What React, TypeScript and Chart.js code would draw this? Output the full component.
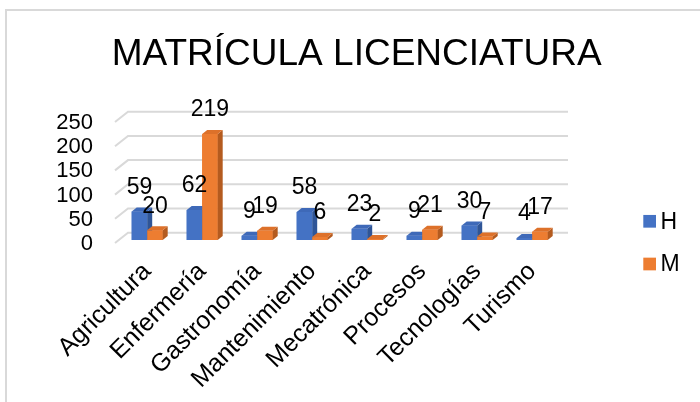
import React, { useEffect, useRef } from "react";
import { Chart, registerables } from "chart.js";

Chart.register(...registerables);

const titleText = "MATRÍCULA LICENCIATURA";
const categories = [
  "Agricultura",
  "Enfermería",
  "Gastronomía",
  "Mantenimiento",
  "Mecatrónica",
  "Procesos",
  "Tecnologías",
  "Turismo",
];
const seriesNames = ["H", "M"];
const seriesH = [59, 62, 9, 58, 23, 9, 30, 4];
const seriesM = [20, 219, 19, 6, 2, 21, 7, 17];
const yTicks = [0, 50, 100, 150, 200, 250];

const FONT = "'Liberation Sans', Arial, sans-serif";
const COLORS = [
  { front: "#4472C4", side: "#2F5597", top: "#3E69B8" },
  { front: "#ED7D31", side: "#B45B1F", top: "#DD712A" },
];
const DEPTH_X = 5;
const DEPTH_Y = -4;

const framePlugin = {
  id: "frame",
  beforeDraw(chart: any) {
    const ctx = chart.ctx;
    ctx.save();
    ctx.strokeStyle = "#d9d9d9";
    ctx.lineWidth = 2;
    ctx.strokeRect(6, 10, 720, 420);
    ctx.fillStyle = "#000";
    ctx.font = `37px ${FONT}`;
    ctx.textAlign = "center";
    ctx.textBaseline = "alphabetic";
    ctx.fillText(chart.options.plugins.titleText, 356.7, 65);
    ctx.restore();
  },
};

const gridPlugin = {
  id: "grid3d",
  beforeDatasetsDraw(chart: any) {
    const { ctx, chartArea, scales } = chart;
    const y = scales.y;
    ctx.save();
    ctx.strokeStyle = "#d9d9d9";
    ctx.lineWidth = 2;
    y.ticks.forEach((t: any) => {
      const py = y.getPixelForValue(t.value);
      ctx.beginPath();
      ctx.moveTo(chartArea.left - 4.7, py + 3);
      ctx.lineTo(chartArea.left + 8.3, py - 7.3);
      ctx.lineTo(chartArea.right + 8.3, py - 7.3);
      ctx.stroke();
    });
    ctx.restore();
  },
};

const bars3dPlugin = {
  id: "bars3d",
  afterDatasetsDraw(chart: any) {
    const ctx = chart.ctx;
    const n = chart.data.labels.length;
    const metas = chart.data.datasets.map((_: any, i: number) => chart.getDatasetMeta(i));
    ctx.save();
    for (let i = 0; i < n; i++) {
      metas.forEach((meta: any, d: number) => {
        const el = meta.data[i];
        if (!el) return;
        const { x, y, base, width } = el.getProps(["x", "y", "base", "width"], true);
        const l = x - width / 2;
        const r = x + width / 2;
        const c = COLORS[d];
        ctx.fillStyle = c.front;
        ctx.fillRect(l, y, width, base - y);
        ctx.fillStyle = c.side;
        ctx.beginPath();
        ctx.moveTo(r, y);
        ctx.lineTo(r + DEPTH_X, y + DEPTH_Y);
        ctx.lineTo(r + DEPTH_X, base + DEPTH_Y);
        ctx.lineTo(r, base);
        ctx.closePath();
        ctx.fill();
        ctx.fillStyle = c.top;
        ctx.beginPath();
        ctx.moveTo(l, y);
        ctx.lineTo(l + DEPTH_X, y + DEPTH_Y);
        ctx.lineTo(r + DEPTH_X, y + DEPTH_Y);
        ctx.lineTo(r, y);
        ctx.closePath();
        ctx.fill();
      });
    }
    ctx.fillStyle = "#000";
    ctx.font = `23px ${FONT}`;
    ctx.textAlign = "center";
    ctx.textBaseline = "middle";
    metas.forEach((meta: any, d: number) => {
      meta.data.forEach((el: any, i: number) => {
        const { x, y } = el.getProps(["x", "y"], true);
        ctx.fillText(String(chart.data.datasets[d].data[i]), x, y - 24);
      });
    });
    ctx.restore();
  },
};

const legendPlugin = {
  id: "legendCustom",
  afterDraw(chart: any) {
    const ctx = chart.ctx;
    ctx.save();
    ctx.font = `23px ${FONT}`;
    ctx.textAlign = "left";
    ctx.textBaseline = "middle";
    chart.data.datasets.forEach((ds: any, d: number) => {
      const cy = 221.3 + d * 42.7;
      ctx.fillStyle = COLORS[d].front;
      ctx.fillRect(643.3, cy - 6.35, 12.7, 12.7);
      ctx.fillStyle = "#000";
      ctx.fillText(ds.label, 660.5, cy + 1);
    });
    ctx.restore();
  },
};

export default function App() {
  const ref = useRef<HTMLCanvasElement>(null);
  useEffect(() => {
    document.body.style.margin = "0";
    const chart = new Chart(ref.current as HTMLCanvasElement, {
      type: "bar",
      data: {
        labels: categories,
        datasets: [
          {
            label: seriesNames[0],
            data: seriesH,
            backgroundColor: COLORS[0].front,
            categoryPercentage: 0.5636,
            barPercentage: 1,
          },
          {
            label: seriesNames[1],
            data: seriesM,
            backgroundColor: COLORS[1].front,
            categoryPercentage: 0.5636,
            barPercentage: 1,
          },
        ],
      },
      options: {
        animation: false,
        responsive: true,
        maintainAspectRatio: false,
        layout: { padding: { left: 0, top: 119, right: 140.3, bottom: 0 } },
        plugins: {
          titleText: titleText,
          title: { display: false },
          legend: { display: false },
          tooltip: { enabled: false },
        },
        scales: {
          x: {
            grid: { display: false, drawTicks: false },
            border: { display: false },
            ticks: {
              autoSkip: false,
              minRotation: 45,
              maxRotation: 45,
              padding: 17,
              color: "#000",
              font: { family: FONT, size: 25 },
            },
            afterFit: (s: any) => {
              s.height = 162;
            },
          },
          y: {
            min: 0,
            max: 250,
            afterBuildTicks: (s: any) => {
              s.ticks = yTicks.map((v) => ({ value: v }));
            },
            grid: { display: false, drawTicks: false },
            border: { display: false },
            ticks: {
              autoSkip: false,
              padding: 26.7,
              labelOffset: 4,
              color: "#000",
              font: { family: FONT, size: 22 },
            },
            afterFit: (s: any) => {
              s.width = 119.7;
            },
          },
        },
      } as any,
      plugins: [framePlugin, gridPlugin, bars3dPlugin, legendPlugin],
    });
    return () => chart.destroy();
  }, []);
  return (
    <div style={{ position: "absolute", left: 0, top: 0, width: 700, height: 402 }}>
      <canvas ref={ref} />
    </div>
  );
}
